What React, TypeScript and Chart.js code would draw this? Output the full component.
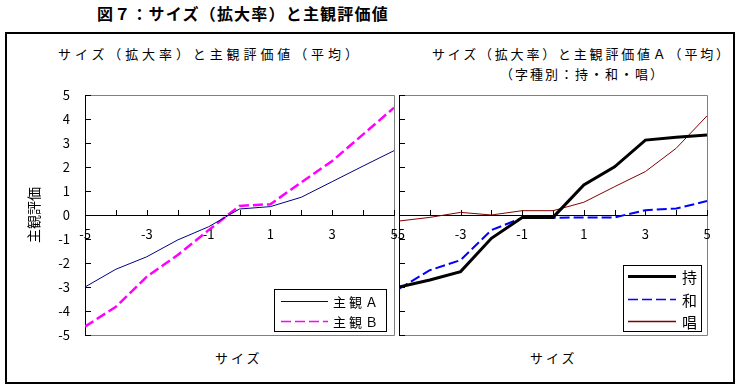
import React, { useEffect, useRef } from 'react';
import { Chart, registerables } from 'chart.js';

Chart.register(...registerables);

// ---- data ----
const SIZES = [-5, -4, -3, -2, -1, 0, 1, 2, 3, 4, 5];
const X_TICK_LABELS = [-5, -3, -1, 1, 3, 5];
const Y_MIN = -5;
const Y_MAX = 5;

const SHUKAN_A = [-3.0, -2.26, -1.74, -1.04, -0.49, 0.25, 0.35, 0.74, 1.39, 2.04, 2.68];
const SHUKAN_B = [-4.65, -3.82, -2.57, -1.67, -0.63, 0.38, 0.45, 1.36, 2.25, 3.36, 4.47];

const MOTSU = [-3.0, -2.71, -2.36, -0.97, -0.1, -0.1, 1.25, 2.01, 3.12, 3.24, 3.33];
const WA = [-3.08, -2.3, -1.88, -0.63, -0.12, -0.12, -0.1, -0.1, 0.2, 0.27, 0.58];
const SHO = [-0.25, -0.1, 0.11, 0.0, 0.18, 0.18, 0.53, 1.18, 1.81, 2.78, 4.13];

const LEFT_LABELS = ['主観Ａ', '主観Ｂ'];
const RIGHT_LABELS = ['持', '和', '唱'];

const FONT = '"Noto Sans CJK JP", "Noto Sans", sans-serif';

const toPoints = (ys: number[]) => SIZES.map((x, i) => ({ x, y: ys[i] }));

// ---- plugins ----
const frameTicks = {
  id: 'frameTicks',
  beforeDraw(chart: any) {
    const { ctx, chartArea: a, scales } = chart;
    ctx.save();
    ctx.strokeStyle = '#808080';
    ctx.lineWidth = 1;
    ctx.beginPath();
    ctx.moveTo(a.left, a.top + 0.5);
    ctx.lineTo(a.right + 0.5, a.top + 0.5);
    ctx.lineTo(a.right + 0.5, a.bottom + 0.5);
    ctx.lineTo(a.left, a.bottom + 0.5);
    ctx.stroke();
    ctx.strokeStyle = '#000';
    ctx.beginPath();
    const y0 = Math.round(scales.y.getPixelForValue(0));
    scales.y.ticks.forEach((t: any) => {
      const py = Math.round(scales.y.getPixelForValue(t.value)) + 0.5;
      ctx.moveTo(a.left, py);
      ctx.lineTo(a.left + 6, py);
    });
    scales.x.ticks.forEach((t: any) => {
      const px = Math.round(scales.x.getPixelForValue(t.value)) + 0.5;
      ctx.moveTo(px, y0 - 5);
      ctx.lineTo(px, y0);
    });
    ctx.stroke();
    ctx.restore();
  },
};

const boxLegend = {
  id: 'boxLegend',
  afterDraw(chart: any, _args: any, o: any) {
    if (!o || !o.width) return;
    const { ctx, chartArea: a } = chart;
    const x = Math.round(a.right - o.right - o.width);
    const y = Math.round(a.bottom - o.bottom - o.height);
    ctx.save();
    ctx.fillStyle = '#fff';
    ctx.fillRect(x, y, o.width, o.height);
    ctx.strokeStyle = '#000';
    ctx.lineWidth = 1;
    ctx.strokeRect(x + 0.5, y + 0.5, o.width, o.height);
    chart.data.datasets.forEach((ds: any, i: number) => {
      const ry = Math.round(y + o.firstRow + i * o.rowGap) + 0.5;
      ctx.beginPath();
      ctx.strokeStyle = ds.borderColor;
      ctx.lineWidth = (o.lineWidths && o.lineWidths[i]) || ds.borderWidth;
      ctx.setLineDash(ds.borderDash || []);
      ctx.moveTo(x + o.sampleStart, ry);
      ctx.lineTo(x + o.sampleEnd, ry);
      ctx.stroke();
      ctx.setLineDash([]);
      ctx.fillStyle = '#000';
      ctx.font = o.font;
      ctx.textBaseline = 'middle';
      ctx.textAlign = 'left';
      try { (ctx as any).letterSpacing = o.letterSpacing || '0px'; } catch (e) {}
      ctx.fillText(ds.label, x + o.textX, ry + 1);
    });
    ctx.restore();
  },
};

function makeConfig(datasets: any[], padding: any, showY: boolean, legendOpts: any): any {
  return {
    type: 'line',
    data: { datasets },
    options: {
      animation: false,
      responsive: false,
      devicePixelRatio: 1,
      events: [],
      layout: { padding },
      elements: { point: { radius: 0 }, line: { tension: 0 } },
      plugins: {
        legend: { display: false },
        tooltip: { enabled: false },
        title: { display: false },
        boxLegend: legendOpts,
      },
      scales: {
        x: {
          type: 'linear',
          position: { y: 0 },
          min: -5,
          max: 5,
          grid: { display: false, drawTicks: false },
          border: { display: true, color: '#000', width: 1 },
          ticks: {
            stepSize: 1,
            autoSkip: false,
            maxRotation: 0,
            padding: 11,
            color: '#000',
            font: { family: FONT, size: 13 },
            callback: (v: any) => (X_TICK_LABELS.includes(Number(v)) ? String(v) : ''),
          },
        },
        y: {
          type: 'linear',
          position: 'left',
          min: Y_MIN,
          max: Y_MAX,
          grid: { display: false, drawTicks: false },
          border: { display: true, color: '#000', width: 1 },
          ticks: {
            display: showY,
            stepSize: 1,
            padding: 15,
            color: '#000',
            font: { family: FONT, size: 13 },
          },
          title: {
            display: showY,
            text: '主観評価',
            color: '#000',
            font: { family: FONT, size: 14 },
            padding: { top: 25, bottom: 0 },
          },
          afterFit: (s: any) => {
            s.width = showY ? 85 : 0;
          },
        },
      },
    },
    plugins: [frameTicks, boxLegend],
  };
}

const canvasStyle: React.CSSProperties = { position: 'absolute', left: 0, top: 0 };

export default function App() {
  const leftRef = useRef<HTMLCanvasElement>(null);
  const rightRef = useRef<HTMLCanvasElement>(null);

  useEffect(() => {
    const left = new Chart(
      leftRef.current as HTMLCanvasElement,
      makeConfig(
        [
          { label: LEFT_LABELS[0], data: toPoints(SHUKAN_A), borderColor: '#000080', borderWidth: 1, fill: false },
          { label: LEFT_LABELS[1], data: toPoints(SHUKAN_B), borderColor: '#FF00FF', borderWidth: 2.5, borderDash: [10, 4], fill: false },
        ],
        { left: 0, top: 95, right: 346, bottom: 54 },
        true,
        { width: 112, height: 42, right: 8, bottom: 4, firstRow: 12, rowGap: 20, sampleStart: 7, sampleEnd: 54, textX: 59, font: `13px ${FONT}`, letterSpacing: '3px', lineWidths: [1, 1.5] }
      )
    );
    const right = new Chart(
      rightRef.current as HTMLCanvasElement,
      makeConfig(
        [
          { label: RIGHT_LABELS[0], data: toPoints(MOTSU), borderColor: '#000000', borderWidth: 3, fill: false },
          { label: RIGHT_LABELS[1], data: toPoints(WA), borderColor: '#0000FF', borderWidth: 2, borderDash: [10, 4], fill: false },
          { label: RIGHT_LABELS[2], data: toPoints(SHO), borderColor: '#800000', borderWidth: 1, fill: false },
        ],
        { left: 399, top: 95, right: 33, bottom: 54 },
        false,
        { width: 78, height: 66, right: 6, bottom: 4, firstRow: 11, rowGap: 22.5, sampleStart: 5, sampleEnd: 53, textX: 59, font: `15px ${FONT}`, letterSpacing: '0px', lineWidths: [3, 1.5, 1.5] }
      )
    );
    return () => {
      left.destroy();
      right.destroy();
    };
  }, []);

  const txt = (extra: React.CSSProperties): React.CSSProperties => ({
    position: 'absolute',
    whiteSpace: 'nowrap',
    fontFamily: FONT,
    color: '#000',
    margin: 0,
    ...extra,
  });

  return (
    <div style={{ position: 'absolute', left: 0, top: 0, width: 740, height: 389, background: '#fff', overflow: 'hidden' }}>
      <div style={{ position: 'absolute', left: 5, top: 32, width: 730, height: 352, border: '2px solid #000', boxSizing: 'border-box' }} />
      <div style={txt({ left: 97, top: 4, fontSize: 16, fontWeight: 'bold', letterSpacing: '1.2px', lineHeight: '18px' })}>
        図７：サイズ（拡大率）と主観評価値
      </div>
      <div style={txt({ left: 58, top: 46, fontSize: 13, letterSpacing: '3.9px', lineHeight: '16px' })}>
        サイズ（拡大率）と主観評価値（平均）
      </div>
      <div style={txt({ left: 432, top: 46, fontSize: 13, letterSpacing: '2.8px', lineHeight: '16px' })}>
        サイズ（拡大率）と主観評価値Ａ（平均）
      </div>
      <div style={txt({ left: 500, top: 66, fontSize: 13, letterSpacing: '2px', lineHeight: '16px' })}>
        （字種別：持・和・唱）
      </div>
      <div style={txt({ left: 215, top: 350, fontSize: 13, letterSpacing: '3px', lineHeight: '16px' })}>サイズ</div>
      <div style={txt({ left: 530, top: 350, fontSize: 13, letterSpacing: '3px', lineHeight: '16px' })}>サイズ</div>
      <canvas ref={leftRef} width={740} height={389} style={canvasStyle} />
      <canvas ref={rightRef} width={740} height={389} style={canvasStyle} />
    </div>
  );
}
